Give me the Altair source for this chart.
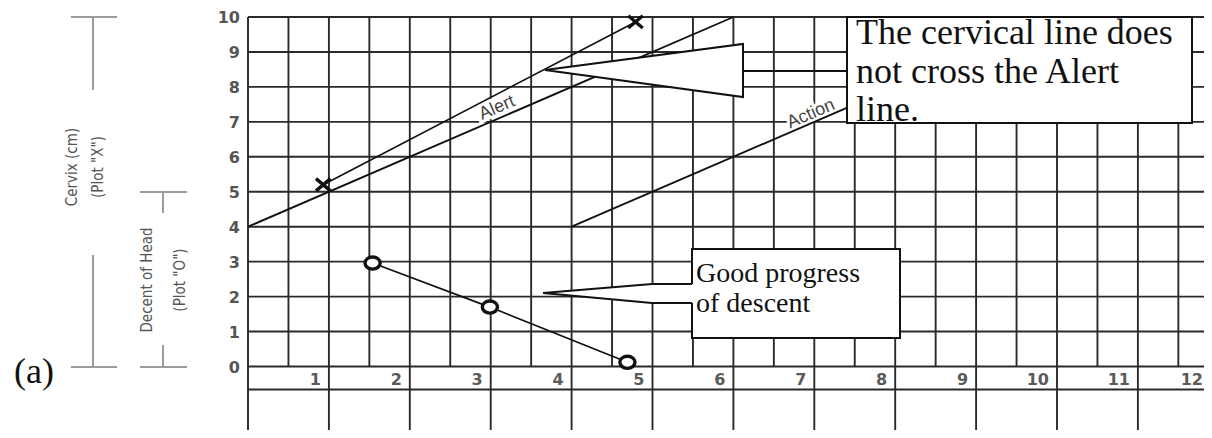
import altair as alt
import pandas as pd

# ---------------- values ----------------
hour_ticks = [1, 2, 3, 4, 5, 6, 7, 8, 9, 10, 11, 12]
hour_lines = [0, 1, 2, 3, 4, 5, 6, 7, 8, 9, 10, 11]
half_hours = [0.5, 1.5, 2.5, 3.5, 4.5, 5.5, 6.5, 7.5, 8.5, 9.5, 10.5, 11.5]
cm_ticks = [0, 1, 2, 3, 4, 5, 6, 7, 8, 9, 10]
label_row_floor = -0.66

alert_hours = [0, 6]
alert_cm = [4, 10]
action_hours = [4, 10]
action_cm = [4, 10]

cervix_hours = [0.93, 4.79]
cervix_cm = [5.2, 9.86]

descent_hours = [1.54, 2.99, 4.69]
descent_level = [2.96, 1.70, 0.12]

callout1_lines = ["The cervical line does", "not cross the Alert", "line."]
callout2_lines = ["Good progress", "of descent"]
side_labels = ["Cervix (cm)", '(Plot "X")', "Decent of Head", '(Plot "O")']

# ---------------- layout ----------------
W, H = 1196, 422
PX0, PXU = 248.0, 80.9      # page x of hour 0, px per hour
PY0, PYU = 366.5, 34.95     # page y of 0, px per unit


def hx(px):
    return (px - PX0) / PXU


def vy(py):
    return (PY0 - py) / PYU


XMIN, XMAX = hx(8), hx(8 + W)
YMIN, YMAX = vy(8 + H), vy(8)
xs = alt.Scale(domain=[XMIN, XMAX], nice=False, zero=False)
ys = alt.Scale(domain=[YMIN, YMAX], nice=False, zero=False)


def X(f="x"):
    return alt.X(f"{f}:Q", scale=xs, axis=None)


def Y(f="y"):
    return alt.Y(f"{f}:Q", scale=ys, axis=None)


GRID = "#2a2a2a"
INK = "#111111"

# grid
gh = pd.DataFrame({"y": cm_ticks + [label_row_floor]})
gh["x"] = 0.0
gh["x2"] = XMAX
grid_h = alt.Chart(gh).mark_rule(color=GRID, strokeWidth=1.9).encode(
    x=X(), x2=alt.X2("x2:Q"), y=Y())

ghalf = pd.DataFrame({"x": half_hours})
ghalf["y"] = 0.0
ghalf["y2"] = 10.0
grid_half = alt.Chart(ghalf).mark_rule(color=GRID, strokeWidth=1.9).encode(
    x=X(), y=Y(), y2=alt.Y2("y2:Q"))

ghour = pd.DataFrame({"x": hour_lines})
ghour["y"] = YMIN
ghour["y2"] = 10.0
grid_hour = alt.Chart(ghour).mark_rule(color=GRID, strokeWidth=1.9).encode(
    x=X(), y=Y(), y2=alt.Y2("y2:Q"))

# tick labels
yl = pd.DataFrame({"y": cm_ticks, "label": [str(v) for v in cm_ticks]})
yl["x"] = 0.0
ylab = alt.Chart(yl).mark_text(align="right", baseline="middle", dx=-8, dy=1,
                               font="DejaVu Sans", fontSize=16, fontWeight="bold",
                               color="#555").encode(x=X(), y=Y(), text="label:N")

xl = pd.DataFrame({"x": [min(h, XMAX + 7 / PXU) for h in hour_ticks],
                   "label": [str(v) for v in hour_ticks]})
xl["y"] = vy(380)
xlab = alt.Chart(xl).mark_text(align="right", baseline="middle", dx=-8,
                               font="DejaVu Sans", fontSize=16, fontWeight="bold",
                               color="#5a5a5a").encode(x=X(), y=Y(), text="label:N")

# Alert / Action reference lines
ref = pd.DataFrame({
    "x": alert_hours + action_hours,
    "y": alert_cm + action_cm,
    "s": ["alert"] * len(alert_hours) + ["action"] * len(action_hours),
})
ref_lines = alt.Chart(ref).mark_line(color=INK, strokeWidth=1.9).encode(
    x=X(), y=Y(), detail="s:N")

rl = pd.DataFrame({"x": [hx(497), hx(811)], "y": [vy(108), vy(114)],
                   "label": ["Alert", "Action"]})
ref_halo = alt.Chart(rl).mark_text(angle=336.6, fontSize=18, font="Liberation Sans",
                                   stroke="white", strokeWidth=6, fill="white").encode(
    x=X(), y=Y(), text="label:N")
ref_text = alt.Chart(rl).mark_text(angle=336.6, fontSize=18, font="Liberation Sans",
                                   color="#444").encode(x=X(), y=Y(), text="label:N")

# cervix
cv = pd.DataFrame({"x": cervix_hours, "y": cervix_cm})
cv_line = alt.Chart(cv).mark_line(color=INK, strokeWidth=1.7).encode(x=X(), y=Y())
cv_pts = alt.Chart(cv).mark_point(shape="M-1,-0.85L1,0.85M-1,0.85L1,-0.85", size=210,
                                  strokeWidth=3.4, color=INK, filled=False,
                                  opacity=1).encode(x=X(), y=Y())

# descent
ds = pd.DataFrame({"x": descent_hours, "y": descent_level})
ds_line = alt.Chart(ds).mark_line(color=INK, strokeWidth=1.7).encode(x=X(), y=Y())
ds_pts = alt.Chart(ds).mark_point(shape="M-1,0A1,0.8 0 1,1 1,0A1,0.8 0 1,1 -1,0Z",
                                  size=230, strokeWidth=3.4, stroke=INK, fill="white",
                                  filled=True, opacity=1).encode(x=X(), y=Y())

# callout 1 (pointer triangle, connector, box, text)
tri = pd.DataFrame({"x": [hx(545), hx(743)], "y": [vy(70), vy(44)], "y2": [vy(70), vy(97)]})
c1_tri = alt.Chart(tri).mark_area(fill="white", stroke=INK, strokeWidth=2,
                                  opacity=1).encode(x=X(), y=Y(), y2=alt.Y2("y2:Q"))
con = pd.DataFrame({"x": [hx(743)], "x2": [hx(847)], "y": [vy(71)]})
c1_con = alt.Chart(con).mark_rule(color=INK, strokeWidth=2).encode(
    x=X(), x2=alt.X2("x2:Q"), y=Y())
b1 = pd.DataFrame({"x": [hx(847)], "x2": [hx(1192)], "y": [vy(17)], "y2": [vy(123)]})
c1_box = alt.Chart(b1).mark_rect(fill="white", stroke=INK, strokeWidth=2).encode(
    x=X(), x2=alt.X2("x2:Q"), y=Y(), y2=alt.Y2("y2:Q"))
t1 = pd.DataFrame({"label": callout1_lines,
                   "y": [vy(44), vy(83), vy(121)]})
t1["x"] = hx(856)
c1_txt = alt.Chart(t1).mark_text(align="left", baseline="alphabetic", font="Liberation Serif",
                                 fontSize=36, color=INK).encode(x=X(), y=Y(), text="label:N")

# callout 2
b2 = pd.DataFrame({"x": [hx(692)], "x2": [hx(900)], "y": [vy(249)], "y2": [vy(338)]})
c2_box = alt.Chart(b2).mark_rect(fill="white", stroke=INK, strokeWidth=2).encode(
    x=X(), x2=alt.X2("x2:Q"), y=Y(), y2=alt.Y2("y2:Q"))
p2 = pd.DataFrame({"x": [hx(543), hx(652), hx(695)],
                   "y": [vy(293), vy(284), vy(284)],
                   "y2": [vy(293), vy(303), vy(303)]})
c2_fill = alt.Chart(p2).mark_area(fill="white", opacity=1).encode(
    x=X(), y=Y(), y2=alt.Y2("y2:Q"))
e2 = pd.DataFrame({"x": [hx(543), hx(652), hx(692), hx(543), hx(652), hx(692)],
                   "y": [vy(293), vy(284), vy(284), vy(293), vy(303), vy(303)],
                   "s": ["top"] * 3 + ["bottom"] * 3})
c2_edge = alt.Chart(e2).mark_line(color=INK, strokeWidth=2).encode(
    x=X(), y=Y(), detail="s:N")
t2 = pd.DataFrame({"label": callout2_lines, "y": [vy(282), vy(312)]})
t2["x"] = hx(696)
c2_txt = alt.Chart(t2).mark_text(align="left", baseline="alphabetic", font="Liberation Serif",
                                 fontSize=28, color=INK).encode(x=X(), y=Y(), text="label:N")

# left-hand brackets and labels (decoration, page px converted to chart units)
segs_px = [
    (71, 17, 117, 17), (93, 17, 93, 90),
    (93, 255, 93, 367), (71, 367, 117, 367),
    (140, 192, 187, 192), (163, 192, 163, 213),
    (163, 345, 163, 367), (140, 367, 187, 367),
]
sg = pd.DataFrame({"x": [hx(a) for a, b, c, d in segs_px],
                   "y": [vy(b) for a, b, c, d in segs_px],
                   "x2": [hx(c) for a, b, c, d in segs_px],
                   "y2": [vy(d) for a, b, c, d in segs_px]})
side_rules = alt.Chart(sg).mark_rule(color="#9c9c9c", strokeWidth=2).encode(
    x=X(), y=Y(), x2=alt.X2("x2:Q"), y2=alt.Y2("y2:Q"))
sl = pd.DataFrame({"label": side_labels,
                   "x": [hx(72), hx(98), hx(147), hx(180)],
                   "y": [vy(167), vy(167), vy(280), vy(280)]})
side_txt = alt.Chart(sl).mark_text(angle=270, align="center", baseline="middle",
                                   font="'Liberation Sans Narrow', 'DejaVu Sans Condensed', 'Liberation Sans', sans-serif",
                                   fontSize=15, color="#555").encode(x=X(), y=Y(), text="label:N")
pa = pd.DataFrame({"label": ["(a)"], "x": [hx(14)], "y": [vy(383)]})
panel = alt.Chart(pa).mark_text(align="left", baseline="alphabetic", font="Liberation Serif",
                                fontSize=36, color=INK).encode(x=X(), y=Y(), text="label:N")

chart = alt.layer(
    grid_h, grid_half, grid_hour, ylab, xlab,
    ref_halo, ref_lines, ref_text,
    cv_line, cv_pts, ds_line, ds_pts,
    c1_tri, c1_con, c1_box, c1_txt,
    c2_box, c2_fill, c2_edge, c2_txt,
    side_rules, side_txt, panel,
).properties(
    width=W, height=H, padding=0,
    autosize=alt.AutoSizeParams(type="none"),
    background="white",
).configure_view(stroke=None)

chart.save("out.html", embed_options={"renderer": "svg", "actions": False})
